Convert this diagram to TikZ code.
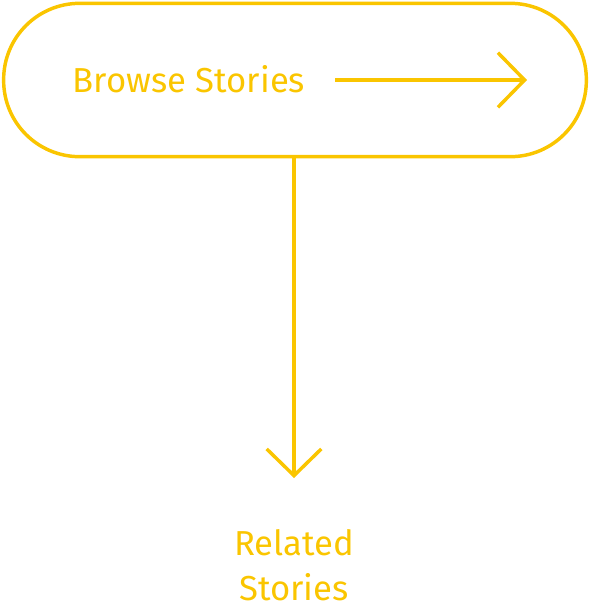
\documentclass[tikz,border=0pt]{standalone}
\usepackage{fontspec}
\setmainfont{Fira Sans}
\usetikzlibrary{arrows.meta,positioning}
\definecolor{storyyellow}{RGB}{250,197,0}
\tikzset{
  chev/.style={-{Straight Barb[length=20pt,width=41pt,line join=miter]}},
  storyline/.style={draw=storyyellow,line width=2.6pt},
  storytext/.style={text=storyyellow,font=\fontsize{26}{33.5}\selectfont,align=center}
}
\begin{document}
\begin{tikzpicture}[x=0.75pt,y=-0.75pt]
\useasboundingbox (0,0) rectangle (590,608);
%\draw[thin,gray!40] (0,0) grid[step=50] (590,608);
 \node[storyline,rounded corners=57pt,minimum width=437pt,minimum height=115pt] (browse) at (295,80) {};
 \node[storytext] (browselabel) at (189,79) {Browse Stories};
 \coordinate (rightstart) at (335,80);
 \coordinate (rightend) at (527,80);
 \draw[storyline,chev] (rightstart)--(rightend);

 \node[storytext,anchor=north] (related) at (294,525) {Related\\Stories};
 \draw[storyline,chev,shorten >=35.25pt] (browse.south -| related)--(related.north);
\end{tikzpicture}
\end{document}
